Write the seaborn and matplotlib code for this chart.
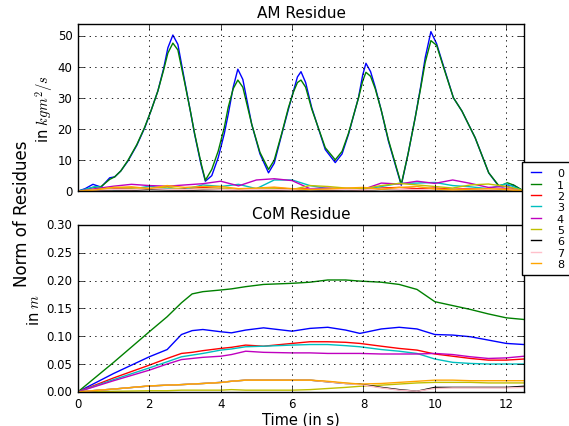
import numpy as np
import pandas as pd
import matplotlib
matplotlib.use("Agg")
import matplotlib.pyplot as plt
from matplotlib.lines import Line2D
import seaborn as sns

# ---------------- data ----------------
labels = ['0', '1', '2', '3', '4', '5', '6', '7', '8']
colors = ['blue', 'green', 'red', 'c', 'm', 'y', 'black', 'pink', 'orange']

# AM residue, the two big series
t_am = [0, 0.2, 0.42, 0.65, 0.89, 1.03, 1.2, 1.4, 1.65, 1.87, 2.05, 2.24, 2.4, 2.52,
        2.66, 2.8, 2.99, 3.15, 3.27, 3.45, 3.57, 3.75, 3.93, 4.1, 4.21, 4.35, 4.48,
        4.62, 4.87, 5.1, 5.34, 5.5, 5.71, 5.9, 6.04, 6.15, 6.25, 6.38, 6.55, 6.93,
        7.21, 7.4, 7.58, 7.86, 7.98, 8.07, 8.2, 8.33, 8.5, 8.7, 9.06, 9.25, 9.45,
        9.6, 9.73, 9.89, 10.05, 10.2, 10.52, 10.76, 11.13, 11.51, 11.79, 11.9,
        12.03, 12.2, 12.44, 12.5]
am_0 = [0, 0.8, 2.2, 1.3, 4.3, 4.6, 6.5, 9.7, 14.8, 20.4, 26.0, 32.3, 39.5, 46.2,
        50.3, 47.3, 35.5, 25.8, 18.3, 8.5, 3.2, 5.0, 10.8, 18.5, 24.7, 33.5, 39.3,
        36.0, 21.5, 12.0, 5.9, 9.0, 18.3, 26.5, 32.3, 36.8, 38.5, 35.0, 26.9, 13.4,
        9.2, 12.0, 18.3, 30.1, 37.5, 41.2, 38.5, 33.5, 26.0, 16.1, 1.9, 12.0, 23.7,
        33.5, 43.0, 51.4, 47.5, 41.9, 30.1, 25.8, 17.2, 5.9, 1.6, 1.4,
        1.6, 2.0, 0.3, 0]
am_1 = [0, 0.5, 1.2, 1.5, 3.8, 4.6, 6.5, 9.9, 15.0, 20.6, 26.0, 32.3, 39.0, 44.5,
        47.7, 45.5, 35.0, 25.8, 18.5, 9.0, 3.5, 7.0, 12.9, 20.5, 27.0, 33.0, 35.8,
        33.5, 21.5, 12.5, 7.0, 10.0, 18.6, 27.0, 32.0, 35.0, 35.8, 33.5, 26.5, 14.0,
        10.1, 12.8, 18.6, 30.0, 35.5, 38.3, 37.0, 33.0, 26.0, 16.5, 2.2, 12.0, 23.7,
        33.0, 41.5, 48.5, 47.0, 41.5, 30.1, 25.8, 17.2, 5.9, 1.8, 2.0,
        2.7, 2.0, 0.4, 0]

# AM residue, the small series
t_am_small = [0, 0.5, 1, 1.5, 2, 2.5, 3, 3.5, 4, 4.5, 5, 5.5, 6, 6.5, 7, 7.5, 8,
              8.5, 9, 9.5, 10, 10.5, 11, 11.5, 12, 12.5]
am_2 = [0, 0.6, 0.8, 1.0, 0.9, 0.6, 0.8, 1.2, 0.8, 0.4, 0.8, 1.0, 0.7, 0.8, 0.5,
        0.6, 0.4, 1.0, 1.2, 0.8, 1.0, 0.6, 0.8, 0.5, 0.8, 0]
am_3 = [0, 1.5, 0.5, 0.6, 1.6, 0.8, 0.6, 2.0, 1.5, 2.2, 0.8, 3.6, 3.6, 1.8, 0.8,
        0.7, 0.6, 1.5, 2.5, 2.6, 2.8, 1.8, 1.4, 0.8, 2.4, 0]
am_4 = [0, 0.8, 1.6, 2.2, 1.8, 1.6, 2.0, 2.4, 3.2, 1.7, 3.6, 4.0, 3.4, 0.8, 1.0,
        0.8, 0.6, 2.6, 2.3, 3.2, 2.5, 3.6, 2.5, 1.2, 1.5, 0]
am_5 = [0, 0.5, 1.2, 1.0, 0.8, 1.3, 0.5, 0.8, 1.0, 0.5, 0.8, 0.8, 0.5, 1.8, 1.5,
        1.0, 0.8, 1.8, 2.5, 2.0, 1.5, 1.0, 2.0, 2.3, 1.5, 0.2]
am_6 = [0, 0.3, 0.4, 0.3, 0.5, 0.4, 0.3, 0.4, 0.5, 0.3, 0.4, 0.3, 0.2, 0.4, 0.3,
        0.4, 0.3, 0.5, 0.4, 0.3, 0.4, 0.3, 0.4, 0.3, 0.4, 0]
am_7 = [0, 0.4, 0.6, 0.5, 0.8, 0.6, 0.5, 0.7, 0.6, 0.4, 0.6, 0.5, 0.4, 0.6, 0.5,
        0.6, 0.4, 0.7, 0.6, 0.5, 0.6, 0.4, 0.6, 0.5, 0.6, 0]
am_8 = [0, 0.4, 1.2, 1.4, 0.8, 1.8, 1.2, 1.5, 1.5, 0.8, 1.0, 1.3, 0.8, 0.5, 0.7,
        1.0, 1.2, 0.6, 1.2, 1.5, 0.7, 0.4, 0.6, 0.8, 0.5, 0]

# CoM residue
t_com = [0, 1, 2, 2.5, 2.9, 3.2, 3.5, 4.0, 4.3, 4.7, 5.2, 6.0, 6.5, 7.0, 7.5, 7.9,
         8.5, 9.0, 9.5, 10.0, 10.5, 11.0, 11.5, 12.0, 12.5]
com_0 = [0, 0.033, 0.063, 0.076, 0.103, 0.110, 0.112, 0.108, 0.106, 0.111, 0.115,
         0.109, 0.114, 0.116, 0.111, 0.105, 0.113, 0.116, 0.113, 0.103, 0.102,
         0.099, 0.093, 0.087, 0.085]
com_1 = [0, 0.053, 0.108, 0.135, 0.160, 0.176, 0.180, 0.183, 0.185, 0.189, 0.193,
         0.195, 0.197, 0.201, 0.201, 0.199, 0.197, 0.193, 0.184, 0.162, 0.155,
         0.148, 0.140, 0.133, 0.130]
com_2 = [0, 0.025, 0.048, 0.060, 0.069, 0.071, 0.074, 0.078, 0.080, 0.084, 0.082,
         0.087, 0.090, 0.090, 0.089, 0.087, 0.082, 0.078, 0.075, 0.068, 0.064,
         0.060, 0.057, 0.057, 0.059]
com_3 = [0, 0.022, 0.043, 0.054, 0.063, 0.066, 0.069, 0.075, 0.077, 0.081, 0.082,
         0.084, 0.085, 0.085, 0.083, 0.081, 0.076, 0.073, 0.069, 0.059, 0.053,
         0.051, 0.050, 0.050, 0.050]
com_4 = [0, 0.020, 0.039, 0.050, 0.058, 0.060, 0.062, 0.064, 0.067, 0.073, 0.071,
         0.070, 0.070, 0.069, 0.069, 0.069, 0.068, 0.068, 0.068, 0.069, 0.067,
         0.063, 0.060, 0.061, 0.064]
com_5 = [0, 0.001, 0.002, 0.002, 0.003, 0.003, 0.003, 0.003, 0.004, 0.003, 0.003,
         0.003, 0.004, 0.006, 0.008, 0.010, 0.012, 0.014, 0.016, 0.017, 0.017,
         0.017, 0.016, 0.016, 0.016]
com_6 = [0, 0.005, 0.0105, 0.012, 0.013, 0.014, 0.015, 0.017, 0.019, 0.021, 0.021,
         0.021, 0.021, 0.018, 0.015, 0.014, 0.008, 0.004, 0.001, 0.008, 0.008,
         0.008, 0.008, 0.008, 0.010]
com_7 = [0, 0.005, 0.0105, 0.012, 0.013, 0.014, 0.015, 0.017, 0.019, 0.021, 0.021,
         0.021, 0.021, 0.018, 0.015, 0.013, 0.007, 0.003, 0.001, 0.006, 0.007,
         0.007, 0.007, 0.007, 0.008]
com_8 = [0, 0.005, 0.0107, 0.012, 0.013, 0.014, 0.015, 0.0167, 0.019, 0.021, 0.021,
         0.021, 0.021, 0.019, 0.016, 0.014, 0.015, 0.017, 0.019, 0.021, 0.021,
         0.020, 0.020, 0.020, 0.020]

# ---------------- long tables for seaborn ----------------
am_rows = []
for lab, vals in zip(labels[:2], [am_0, am_1]):
    am_rows.append(pd.DataFrame({'t': t_am, 'v': vals, 'series': lab}))
for lab, vals in zip(labels[2:], [am_2, am_3, am_4, am_5, am_6, am_7, am_8]):
    am_rows.append(pd.DataFrame({'t': t_am_small, 'v': vals, 'series': lab}))
df_am = pd.concat(am_rows, ignore_index=True)

com_vals = [com_0, com_1, com_2, com_3, com_4, com_5, com_6, com_7, com_8]
df_com = pd.concat([pd.DataFrame({'t': t_com, 'v': vals, 'series': lab})
                    for lab, vals in zip(labels, com_vals)], ignore_index=True)

# ---------------- plot ----------------
plt.style.use('classic')
plt.rcParams['figure.facecolor'] = 'white'
plt.rcParams['savefig.facecolor'] = 'white'
plt.rcParams['font.family'] = ['DejaVu Sans']
plt.rcParams['mathtext.fontset'] = 'cm'
plt.rcParams['xtick.labelsize'] = 8.5
plt.rcParams['ytick.labelsize'] = 8.5

fig = plt.figure(figsize=(5.69, 4.27), dpi=100)
ax1 = fig.add_axes([0.137, 0.550, 0.784, 0.391])
ax2 = fig.add_axes([0.137, 0.080, 0.784, 0.391], sharex=ax1)

palette = dict(zip(labels, colors))
sns.lineplot(data=df_am, x='t', y='v', hue='series', hue_order=labels,
             palette=palette, estimator=None, linewidth=1, legend=False, ax=ax1)
sns.lineplot(data=df_com, x='t', y='v', hue='series', hue_order=labels,
             palette=palette, estimator=None, linewidth=1, legend=False, ax=ax2)

ax1.set_xlim(0, 12.5)
ax1.set_ylim(0, 53.8)
ax2.set_ylim(0, 0.30)
ax1.set_yticks([0, 10, 20, 30, 40, 50])
ax2.set_yticks([0, 0.05, 0.10, 0.15, 0.20, 0.25, 0.30])
ax2.set_xticks([0, 2, 4, 6, 8, 10, 12])
ax1.tick_params(labelbottom=False)

for ax in (ax1, ax2):
    ax.grid(True, linestyle=':', color='k', linewidth=0.6)
    ax.set_xlabel('')

ax1.set_title('AM Residue', fontsize=11)
ax2.set_title('CoM Residue', fontsize=11)
ax1.set_ylabel('in $kgm^2/s$', fontsize=10.5, labelpad=2)
ax2.set_ylabel('in $m$', fontsize=10.5, labelpad=3)
ax2.set_xlabel('Time (in s)', fontsize=10.5, labelpad=1)
fig.text(0.038, 0.50, 'Norm of Residues', rotation=90, fontsize=12,
         ha='center', va='center')

handles = [Line2D([], [], color=c, linewidth=1) for c in colors]
fig.legend(handles, labels, loc='upper left', bbox_to_anchor=(0.917, 0.618),
           fontsize=8, labelspacing=0.12, handlelength=1.5, handletextpad=1.1,
           borderpad=0.55, borderaxespad=0.0,
           fancybox=False, shadow=False, frameon=True)

fig.savefig('out.png', dpi=100)
